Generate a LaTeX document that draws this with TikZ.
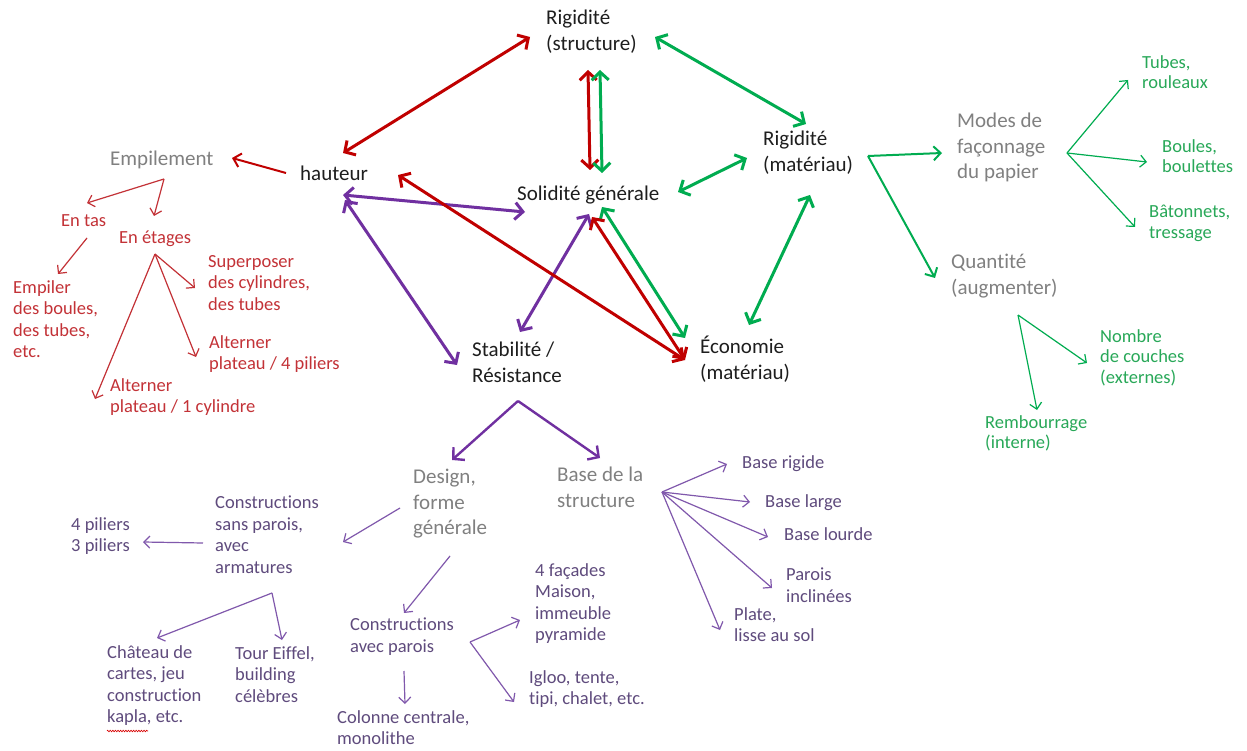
\documentclass[tikz,border=0pt]{standalone}
\usepackage{fontspec}
\setmainfont{Carlito}[Ligatures=NoCommon]
\usetikzlibrary{arrows.meta,decorations.pathmorphing}

\definecolor{inkblack}{RGB}{30,30,30}
\definecolor{inkgrey}{RGB}{128,128,128}
\definecolor{inkred}{RGB}{192,0,0}
\definecolor{txtred}{RGB}{195,50,55}
\definecolor{inkgreen}{RGB}{0,172,80}
\definecolor{txtgreen}{RGB}{40,168,88}
\definecolor{inkpurple}{RGB}{112,48,160}
\definecolor{thinpurple}{RGB}{128,88,172}
\definecolor{txtpurple}{RGB}{95,75,125}

\tikzset{
  lbl/.style={anchor=north west, inner sep=0pt, align=left},
  big/.style={lbl, font=\fontsize{21}{25.5}\selectfont, yshift=20pt,
              execute at begin node={\rule{0pt}{20pt}}},
  small/.style={lbl, font=\fontsize{18.5}{21.5}\selectfont, yshift=18pt,
                execute at begin node={\rule{0pt}{18pt}}},
  smallg/.style={small, font=\fontsize{18.5}{20.5}\selectfont},
  main/.style={big, text=inkblack},
  theme/.style={big, text=inkgrey},
  redtxt/.style={small, text=txtred},
  greentxt/.style={smallg, text=txtgreen},
  purpletxt/.style={small, text=txtpurple},
  barbbig/.tip={Straight Barb[length=8pt,width=17pt]},
  barbmid/.tip={Straight Barb[length=7pt,width=14pt]},
  barbthin/.tip={Straight Barb[length=6pt,width=12pt]},
  linkboth/.style={line width=3pt, barbbig-barbbig},
  linkone/.style={line width=2.6pt, -barbbig},
  linkmid/.style={line width=2pt, -barbmid},
  linkthin/.style={line width=1.2pt, -barbthin},
}

\begin{document}
\begin{tikzpicture}[x=1pt,y=-1pt,line join=round]
\useasboundingbox[fill=white] (0,0) rectangle (1247,751);

% ---------- central concepts ----------
\node[main] (rs)   at (546,30)  {Rigidité\\(structure)};
\node[main] (haut) at (300,180) {hauteur};
\node[main] (sol)  at (517,200) {Solidité générale};
\node[main] (rm)   at (763,151) {Rigidité\\(matériau)};
\node[main] (stab) at (472,362) {Stabilité /\\Résistance};
\node[main] (eco)  at (700,356) {Économie\\(matériau)};

% ---------- themes ----------
\node[theme] (emp)    at (110,165) {Empilement};
\node[theme] (modes)  at (957,133) {Modes de\\façonnage\\du papier};
\node[theme] (quant)  at (951,274) {Quantité\\(augmenter)};
\node[theme] (design) at (413,489) {Design,\\forme\\générale};
\node[theme] (base)   at (557,487) {Base de la\\structure};

% ---------- stacking (red) ----------
\node[redtxt] (entas)   at (61,226)  {En tas};
\node[redtxt] (etages)  at (119,243) {En étages};
\node[redtxt] (empiler) at (13,298)  {Empiler\\des boules,\\des tubes,\\etc.};
\node[redtxt] (superp)  at (208,273) {Superposer\\des cylindres,\\des tubes};
\node[redtxt] (alt4)    at (209,353) {Alterner\\plateau / 4 piliers};
\node[redtxt] (alt1)    at (110,396) {Alterner\\plateau / 1 cylindre};

% ---------- paper (green) ----------
\node[greentxt] (tubes)  at (1142,73)  {Tubes,\\rouleaux};
\node[greentxt] (boules) at (1162,157) {Boules,\\boulettes};
\node[greentxt] (baton)  at (1149,223) {Bâtonnets,\\tressage};
\node[greentxt] (nombre) at (1100,347) {Nombre\\de couches\\(externes)};
\node[greentxt] (remb)   at (985,433)  {Rembourrage\\(interne)};

% ---------- shape and base (purple) ----------
\node[purpletxt] (sansp)   at (215,514) {Constructions\\sans parois,\\avec\\armatures};
\node[purpletxt] (pil)     at (71,535)  {4 piliers\\3 piliers};
\node[purpletxt] (chat)    at (107,663) {Château de\\cartes, jeu\\construction\\kapla, etc.};
\node[purpletxt] (tour)    at (235,664) {Tour Eiffel,\\building\\célèbres};
\node[purpletxt] (avecp)   at (350,636) {Constructions\\avec parois};
\node[purpletxt] (col)     at (337,728) {Colonne centrale,\\monolithe};
\node[purpletxt] (fac)     at (535,581) {4 façades\\Maison,\\immeuble\\pyramide};
\node[purpletxt] (igloo)   at (529,688) {Igloo, tente,\\tipi, chalet, etc.};
\node[purpletxt] (brig)    at (742,468) {Base rigide};
\node[purpletxt] (blarge)  at (765,507) {Base large};
\node[purpletxt] (blourde) at (784,540) {Base lourde};
\node[purpletxt] (parois)  at (786,586) {Parois\\inclinées};
\node[purpletxt] (plate)   at (734,625) {Plate,\\lisse au sol};

% spell-check squiggle under "kapla"
\draw[red!85!black, line width=0.6pt,
      decorate, decoration={zigzag, amplitude=0.9pt, segment length=2.6pt}]
  (107,731) -- (148,731);

% ---------- arrow end points ----------
\coordinate (h-rs)  at (343,153);  \coordinate (rs-h)  at (530,37);
\coordinate (rs-s1) at (588,70);   \coordinate (s-rs1) at (590,170);
\coordinate (rs-s2) at (600,70);   \coordinate (s-rs2) at (602,173);
\coordinate (rs-rm) at (655,37);   \coordinate (rm-rs) at (806,124);
\coordinate (s-rm)  at (678,192);  \coordinate (rm-s)  at (747,158);
\coordinate (h-e)   at (398,175);  \coordinate (e-h)   at (685,360);
\coordinate (s-e1)  at (592,217);  \coordinate (e-s1)  at (685,360);
\coordinate (s-e2)  at (602,207);  \coordinate (e-s2)  at (685,338);
\coordinate (rm-e)  at (810,195);  \coordinate (e-rm)  at (749,325);
\coordinate (h-s)   at (343,195);  \coordinate (s-h)   at (525,212);
\coordinate (h-st)  at (345,200);  \coordinate (st-h)  at (457,365);
\coordinate (s-st)  at (589,214);  \coordinate (st-s)  at (520,332);

\coordinate (h-out)   at (286,173); \coordinate (emp-in)  at (232,158);
\coordinate (rm-out)  at (868,156); \coordinate (modes-in) at (942,153);
\coordinate (quant-in) at (935,278);
\coordinate (st-out)  at (518,401); \coordinate (design-in) at (452,460);
\coordinate (base-in) at (600,458);

\coordinate (emp-out)   at (164,179);
\coordinate (entas-in)  at (87,203);  \coordinate (etages-in) at (154,216);
\coordinate (entas-out) at (87,238);  \coordinate (empiler-in) at (58,274);
\coordinate (etages-out) at (155,254);
\coordinate (superp-in) at (195,288); \coordinate (alt4-in) at (196,357);
\coordinate (alt1-in)   at (95,399);

\coordinate (modes-out) at (1067,153);
\coordinate (tubes-in)  at (1128,80);  \coordinate (boules-in) at (1147,162);
\coordinate (baton-in)  at (1135,227);
\coordinate (quant-out) at (1018,315);
\coordinate (nombre-in) at (1087,363); \coordinate (remb-in) at (1037,410);

\coordinate (design-out1) at (400,508); \coordinate (sansp-in) at (343,542);
\coordinate (sansp-out1)  at (203,543); \coordinate (pil-in)   at (143,542);
\coordinate (design-out2) at (450,556); \coordinate (avecp-in) at (404,613);
\coordinate (sansp-out2)  at (272,593);
\coordinate (chat-in) at (157,638);     \coordinate (tour-in)  at (282,640);
\coordinate (avecp-out1)  at (404,671); \coordinate (col-in)   at (405,704);
\coordinate (avecp-out2)  at (470,642);
\coordinate (fac-in) at (520,620);      \coordinate (igloo-in) at (514,702);
\coordinate (base-out) at (662,492);
\coordinate (brig-in)    at (727,464); \coordinate (blarge-in) at (750,502);
\coordinate (blourde-in) at (768,537); \coordinate (parois-in) at (772,588);
\coordinate (plate-in)   at (720,630);

% ---------- thick links between central concepts ----------
\draw[linkboth, inkred]    (h-rs)  -- (rs-h);
\draw[linkboth, inkred]    (rs-s1) -- (s-rs1);
\draw[linkboth, inkgreen]  (rs-s2) -- (s-rs2);
\draw[linkboth, inkgreen]  (rs-rm) -- (rm-rs);
\draw[linkboth, inkgreen]  (s-rm)  -- (rm-s);
\draw[linkboth, inkgreen]  (rm-e)  -- (e-rm);
\draw[linkboth, inkpurple] (h-s)   -- (s-h);
\draw[linkboth, inkpurple] (h-st)  -- (st-h);
\draw[linkboth, inkpurple] (s-st)  -- (st-s);
\draw[linkboth, inkgreen]  (s-e2)  -- (e-s2);
\draw[linkboth, inkred]    (h-e)   -- (e-h);
\draw[linkboth, inkred]    (s-e1)  -- (e-s1);

% ---------- links to the themes ----------
\draw[linkmid, inkred] (h-out) -- (emp-in);
\draw[linkmid, inkgreen] (rm-out) -- (modes-in);
\draw[linkmid, inkgreen] (rm-out) -- (quant-in);
\draw[linkone, inkpurple, line width=2.4pt] (st-out) -- (design-in);
\draw[linkone, inkpurple, line width=2.4pt] (st-out) -- (base-in);

% ---------- thin branches ----------
\begin{scope}[linkthin, txtred]
  \draw (emp-out) -- (entas-in);
  \draw (emp-out) -- (etages-in);
  \draw (entas-out) -- (empiler-in);
  \draw (etages-out) -- (superp-in);
  \draw (etages-out) -- (alt4-in);
  \draw (etages-out) -- (alt1-in);
\end{scope}

\begin{scope}[linkthin, inkgreen]
  \draw (modes-out) -- (tubes-in);
  \draw (modes-out) -- (boules-in);
  \draw (modes-out) -- (baton-in);
  \draw (quant-out) -- (nombre-in);
  \draw (quant-out) -- (remb-in);
\end{scope}

\begin{scope}[linkthin, thinpurple]
  \draw (design-out1) -- (sansp-in);
  \draw (sansp-out1) -- (pil-in);
  \draw (design-out2) -- (avecp-in);
  \draw (sansp-out2) -- (chat-in);
  \draw (sansp-out2) -- (tour-in);
  \draw (avecp-out1) -- (col-in);
  \draw (avecp-out2) -- (fac-in);
  \draw (avecp-out2) -- (igloo-in);
  \draw (base-out) -- (brig-in);
  \draw (base-out) -- (blarge-in);
  \draw (base-out) -- (blourde-in);
  \draw (base-out) -- (parois-in);
  \draw (base-out) -- (plate-in);
\end{scope}
\end{tikzpicture}
\end{document}
